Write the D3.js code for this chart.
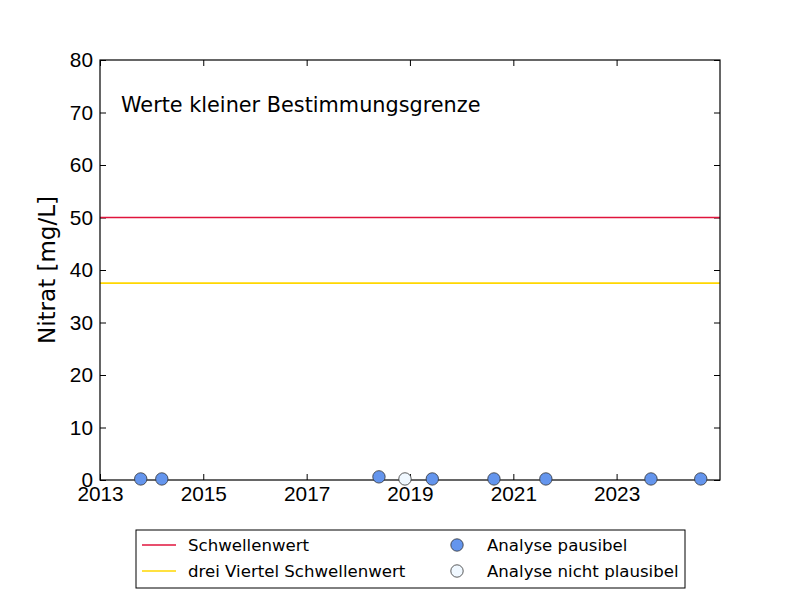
<!DOCTYPE html>
<html>
<head>
<meta charset="utf-8">
<script src="https://cdn.jsdelivr.net/npm/d3@7"></script>
<style>
  body { margin: 0; background: #fff; }
  svg { font-family: "DejaVu Sans", sans-serif; }
  .axis text { font-size: 20.8px; fill: #000; }
  .axis line { stroke: #000; }
</style>
</head>
<body>
<div id="graph"></div>
<script>
const margin = {top: 60, right: 80, bottom: 120, left: 100};
const width = 800, height = 600;

// sample dates and nitrate values
const sampleDates = ["2013-10-16", "2014-03-14", "2018-05-27", "2018-11-27", "2019-06-08",
                     "2020-08-17", "2021-08-19", "2023-09-01", "2024-08-18"];
const nitrat = [0.2, 0.2, 0.6, 0.2, 0.2, 0.2, 0.2, 0.2, 0.2];
const plausibel = [true, true, true, false, true, true, true, true, true];

const schwellenwert = 50;
const dreiViertel = 37.5;

const xTickYears = [2013, 2015, 2017, 2019, 2021, 2023];
const yTicks = [0, 10, 20, 30, 40, 50, 60, 70, 80];

const legendLines = ["Schwellenwert", "drei Viertel Schwellenwert"];
const legendPoints = ["Analyse pausibel", "Analyse nicht plausibel"];

const innerW = width - margin.left - margin.right;
const innerH = height - margin.top - margin.bottom;

const parse = d3.timeParse("%Y-%m-%d");
const data = sampleDates.map((d, i) => ({date: parse(d), value: nitrat[i], ok: plausibel[i]}));

const svg = d3.select("#graph")
  .append("svg")
    .attr("width", width)
    .attr("height", height);

const graph = svg.append("g")
  .attr("transform", `translate(${margin.left},${margin.top})`);

const x = d3.scaleTime()
  .domain([new Date(2013, 0, 1), new Date(2025, 0, 1)])
  .range([0, innerW]);

const y = d3.scaleLinear()
  .domain([0, 80])
  .range([innerH, 0]);

const xTickDates = xTickYears.map(yr => new Date(yr, 0, 1));

// bottom axis, ticks pointing inward
const xAxis = graph.append("g")
  .attr("class", "axis")
  .attr("transform", `translate(0,${innerH})`)
  .call(d3.axisBottom(x).tickValues(xTickDates).tickFormat(d3.timeFormat("%Y"))
        .tickSizeInner(-6).tickSizeOuter(0).tickPadding(6));
xAxis.select(".domain").remove();

graph.append("g")
  .attr("class", "axis")
  .call(d3.axisTop(x).tickValues(xTickDates).tickFormat("")
        .tickSizeInner(-6).tickSizeOuter(0))
  .select(".domain").remove();

const yAxis = graph.append("g")
  .attr("class", "axis")
  .call(d3.axisLeft(y).tickValues(yTicks)
        .tickSizeInner(-6).tickSizeOuter(0).tickPadding(7));
yAxis.select(".domain").remove();

graph.append("g")
  .attr("class", "axis")
  .attr("transform", `translate(${innerW},0)`)
  .call(d3.axisRight(y).tickValues(yTicks).tickFormat("")
        .tickSizeInner(-6).tickSizeOuter(0))
  .select(".domain").remove();

// threshold lines
graph.append("line")
  .attr("x1", 0).attr("x2", innerW)
  .attr("y1", y(schwellenwert)).attr("y2", y(schwellenwert))
  .attr("stroke", "#E0143C").attr("stroke-width", 1.6);

graph.append("line")
  .attr("x1", 0).attr("x2", innerW)
  .attr("y1", y(dreiViertel)).attr("y2", y(dreiViertel))
  .attr("stroke", "#FFD700").attr("stroke-width", 1.6);

// frame
graph.append("rect")
  .attr("x", 0).attr("y", 0)
  .attr("width", innerW).attr("height", innerH)
  .attr("fill", "none").attr("stroke", "#000").attr("stroke-width", 1.2);

graph.append("text")
  .attr("x", 21)
  .attr("y", 52)
  .style("font-size", "20.8px")
  .text("Werte kleiner Bestimmungsgrenze");

graph.selectAll("circle.points")
  .data(data)
  .enter()
  .append("circle")
    .attr("class", "points")
    .attr("cx", d => x(d.date))
    .attr("cy", d => y(d.value))
    .attr("r", 6.2)
    .attr("fill", d => d.ok ? "#6495ED" : "#F0F8FF")
    .attr("stroke", "#333")
    .attr("stroke-width", 0.8);

svg.append("text")
  .attr("transform", `translate(55,${margin.top + innerH / 2}) rotate(-90)`)
  .attr("text-anchor", "middle")
  .style("font-size", "23px")
  .text("Nitrat [mg/L]");

// legend
const legend = svg.append("g").attr("transform", "translate(136,530)");
legend.append("rect")
  .attr("width", 549).attr("height", 58)
  .attr("fill", "#fff").attr("stroke", "#000").attr("stroke-width", 1);

const lineColors = ["#E0143C", "#FFD700"];
legendLines.forEach((t, i) => {
  const ly = 15 + i * 26;
  legend.append("line")
    .attr("x1", 6).attr("x2", 40).attr("y1", ly).attr("y2", ly)
    .attr("stroke", lineColors[i]).attr("stroke-width", 1.6);
  legend.append("text")
    .attr("x", 52).attr("y", ly).attr("dy", "0.36em")
    .style("font-size", "16.6px")
    .text(t);
});

const pointColors = ["#6495ED", "#F0F8FF"];
legendPoints.forEach((t, i) => {
  const ly = 15 + i * 26;
  legend.append("circle")
    .attr("cx", 321).attr("cy", ly).attr("r", 6.2)
    .attr("fill", pointColors[i]).attr("stroke", "#333").attr("stroke-width", 0.8);
  legend.append("text")
    .attr("x", 351).attr("y", ly).attr("dy", "0.36em")
    .style("font-size", "16.6px")
    .text(t);
});
</script>
</body>
</html>
